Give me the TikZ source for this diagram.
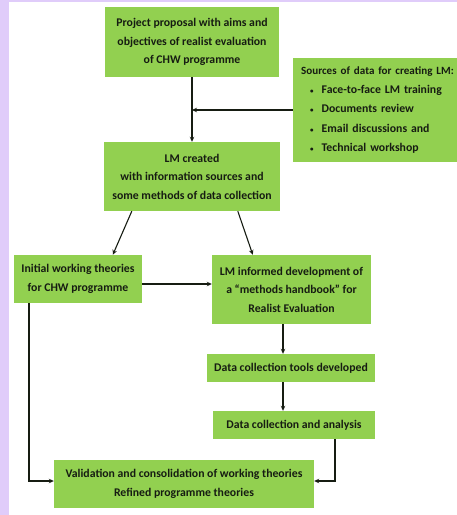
\documentclass[tikz,border=0pt]{standalone}
\usepackage{fontspec}
\setmainfont{Carlito}
\usetikzlibrary{arrows.meta,calc}
\definecolor{lav}{RGB}{224,204,250}
\definecolor{boxgreen}{RGB}{146,208,80}
\definecolor{ink}{RGB}{22,28,18}
\newcommand{\smbul}{{\fontsize{7}{7}\selectfont\textbullet}}
\begin{document}
\begin{tikzpicture}[x=1bp,y=-1bp,
  box/.style={fill=boxgreen, draw=none, inner sep=0pt, align=center,
    font=\fontsize{11.8}{18.5}\selectfont\bfseries, text=ink},
  arr/.style={draw=ink, line width=1.1pt, -{Stealth[length=5pt,width=4.5pt]}}]
\fill[lav] (0,0) rectangle (457,515);
\fill[white] (9,2) rectangle (457,515);
\useasboundingbox (0,0) rectangle (457,515);

\node[box, minimum width=174bp, minimum height=70bp] (prop) at (192,42)
  {Project proposal with aims and\\objectives of realist evaluation\\of CHW programme};

\begin{scope}
\clip (0,0) rectangle (457,515);
\node[box, anchor=west, align=left, text width=156bp, inner xsep=8bp,
  minimum height=104bp, font=\fontsize{11.8}{19.5}\selectfont\bfseries] (src) at (293,110)
  {{\fontsize{11.1}{19.5}\selectfont Sources of data for creating LM:}\\
   \hspace*{9bp}\smbul\hspace{8bp}Face-to-face LM training\\
   \hspace*{9bp}\smbul\hspace{8bp}Documents review\\
   \hspace*{9bp}\smbul\hspace{8bp}Email discussions and\\
   \hspace*{9bp}\smbul\hspace{8bp}Technical workshop};
\end{scope}

\node[box, minimum width=176bp, minimum height=69bp] (lmc) at (192,176.5)
  {LM created\\with information sources and\\some methods of data collection};
\node[box, minimum width=128bp, minimum height=48bp] (ini) at (78,279)
  {Initial working theories\\for CHW programme};
\node[box, minimum width=159bp, minimum height=69bp] (lmi) at (291.5,289.5)
  {LM informed development of\\a ``methods handbook''  for\\Realist Evaluation};
\node[box, minimum width=168bp, minimum height=28bp] (dct) at (291,368)
  {Data collection tools developed};
\node[box, minimum width=162bp, minimum height=28bp] (dca) at (294,425)
  {Data collection and analysis};
\node[box, minimum width=260bp, minimum height=48bp] (val) at (184,484)
  {Validation and consolidation of working theories\\Refined programme theories};

\coordinate (vx) at (283,0);
\coordinate (rx) at (335,0);
\coordinate (lx) at (29,0);

\draw[arr] (prop.south) -- (lmc.north);
\draw[arr] (src.west) -- (src.west -| prop.south);
\draw[arr] ($(lmc.south west)+(28,0)$) -- ($(ini.north west)+(99,0)$);
\draw[arr] ($(lmc.south west)+(134,0)$) -- ($(lmi.north west)+(41,0)$);
\coordinate (ie) at ($(ini.east)+(0,5)$);
\draw[arr] (ie) -- (ie -| lmi.west);
\draw[arr] (lmi.south -| vx) -- (dct.north -| vx);
\draw[arr] (dct.south -| vx) -- (dca.north -| vx);
\coordinate (vr) at ($(val.east)+(0,-3)$);
\coordinate (vl) at ($(val.west)+(0,-3)$);
\draw[arr] (dca.south -| rx) |- (vr);
\draw[arr] (ini.south -| lx) |- (vl);
\end{tikzpicture}
\end{document}
